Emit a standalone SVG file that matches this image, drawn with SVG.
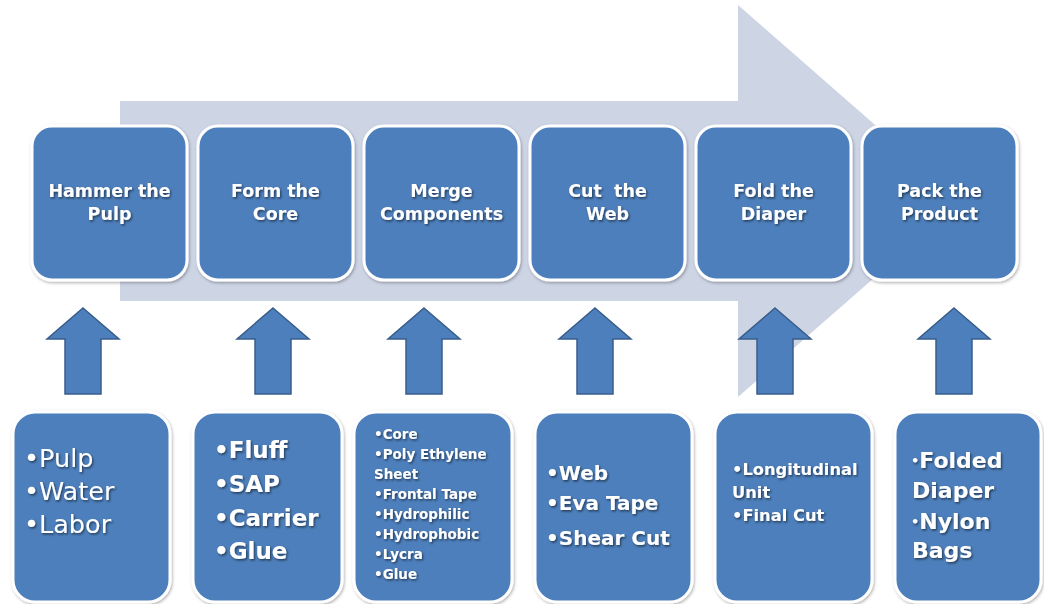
<svg xmlns="http://www.w3.org/2000/svg" width="1044" height="604" viewBox="0 0 1044 604">
<defs>
<filter id="ts" x="-10%" y="-30%" width="130%" height="180%">
<feDropShadow dx="1.2" dy="1.5" stdDeviation="0.8" flood-color="#000" flood-opacity="0.55"/>
</filter>
<filter id="bs" x="-10%" y="-10%" width="130%" height="130%">
<feDropShadow dx="1" dy="1.5" stdDeviation="1.5" flood-color="#000" flood-opacity="0.3"/>
</filter>
</defs>
<style>
.box{fill:#4d7fbc;stroke:#ffffff;stroke-width:3;filter:url(#bs)}
.up{fill:#4d7fbc;stroke:#385d8a;stroke-width:1.5}
.t{fill:#ffffff;font-family:"DejaVu Sans","Liberation Sans",sans-serif;font-weight:bold;filter:url(#ts)}
.h{font-size:17.5px;text-anchor:middle}
.r{font-weight:normal}
</style>
<rect width="1044" height="604" fill="#ffffff"/>
<g id="flow-arrow">
<polygon points="120,101 738,101 738,5 962,201 738,397 738,301 120,301" fill="#cdd4e4"/>
</g>
<g id="connectors">
<path class="up" d="M83,308 L119,339 L101,339 L101,394 L65,394 L65,339 L47,339 Z"/>
<path class="up" d="M273,308 L309,339 L291,339 L291,394 L255,394 L255,339 L237,339 Z"/>
<path class="up" d="M424,308 L460,339 L442,339 L442,394 L406,394 L406,339 L388,339 Z"/>
<path class="up" d="M595,308 L631,339 L613,339 L613,394 L577,394 L577,339 L559,339 Z"/>
<path class="up" d="M775,308 L811,339 L793,339 L793,394 L757,394 L757,339 L739,339 Z"/>
<path class="up" d="M954,308 L990,339 L972,339 L972,394 L936,394 L936,339 L918,339 Z"/>
</g>
<g id="step-hammer">
<rect class="box" x="32" y="126" width="155" height="154" rx="20"/>
<text class="t h" x="109.5" y="197">Hammer the</text>
<text class="t h" x="109.5" y="220">Pulp</text>
</g>
<g id="step-form">
<rect class="box" x="198" y="126" width="155" height="154" rx="20"/>
<text class="t h" x="275.5" y="197">Form the</text>
<text class="t h" x="275.5" y="220">Core</text>
</g>
<g id="step-merge">
<rect class="box" x="364" y="126" width="155" height="154" rx="20"/>
<text class="t h" x="441.5" y="197">Merge</text>
<text class="t h" x="441.5" y="220">Components</text>
</g>
<g id="step-cut">
<rect class="box" x="530" y="126" width="155" height="154" rx="20"/>
<text class="t h" x="607.5" y="197" xml:space="preserve">Cut  the</text>
<text class="t h" x="607.5" y="220">Web</text>
</g>
<g id="step-fold">
<rect class="box" x="696" y="126" width="155" height="154" rx="20"/>
<text class="t h" x="773.5" y="197">Fold the</text>
<text class="t h" x="773.5" y="220">Diaper</text>
</g>
<g id="step-pack">
<rect class="box" x="862" y="126" width="155" height="154" rx="20"/>
<text class="t h" x="939.5" y="197">Pack the</text>
<text class="t h" x="939.5" y="220">Product</text>
</g>
<g id="input-hammer">
<rect class="box" x="13" y="412" width="157" height="190" rx="22"/>
<g class="t r" font-size="25.5">
<text x="24" y="467">•Pulp</text>
<text x="24" y="500">•Water</text>
<text x="24" y="533">•Labor</text>
</g>
</g>
<g id="input-form">
<rect class="box" x="193" y="412" width="149" height="190" rx="22"/>
<g class="t" font-size="23">
<text x="214" y="458">•Fluff</text>
<text x="214" y="492">•SAP</text>
<text x="214" y="526">•Carrier</text>
<text x="214" y="559">•Glue</text>
</g>
</g>
<g id="input-merge">
<rect class="box" x="354" y="412" width="158" height="190" rx="22"/>
<g class="t" font-size="13.5">
<text x="374" y="439">•Core</text>
<text x="374" y="459">•Poly Ethylene</text>
<text x="374" y="479">Sheet</text>
<text x="374" y="499">•Frontal Tape</text>
<text x="374" y="519">•Hydrophilic</text>
<text x="374" y="539">•Hydrophobic</text>
<text x="374" y="559">•Lycra</text>
<text x="374" y="579">•Glue</text>
</g>
</g>
<g id="input-cut">
<rect class="box" x="535" y="412" width="157" height="190" rx="22"/>
<g class="t" font-size="20">
<text x="546" y="480">•Web</text>
<text x="546" y="510">•Eva Tape</text>
<text x="546" y="545">•Shear Cut</text>
</g>
</g>
<g id="input-fold">
<rect class="box" x="715" y="412" width="157" height="190" rx="22"/>
<g class="t" font-size="16.3">
<text x="732" y="475">•Longitudinal</text>
<text x="732" y="498">Unit</text>
<text x="732" y="521">•Final Cut</text>
</g>
</g>
<g id="input-pack">
<rect class="box" x="895" y="412" width="146" height="190" rx="22"/>
<g class="t" font-size="22">
<text x="911" y="468"><tspan font-size="13" dy="-3">•</tspan><tspan dy="3">Folded</tspan></text>
<text x="912" y="498">Diaper</text>
<text x="911" y="529"><tspan font-size="13" dy="-3">•</tspan><tspan dy="3">Nylon</tspan></text>
<text x="912" y="558">Bags</text>
</g>
</g>
</svg>
